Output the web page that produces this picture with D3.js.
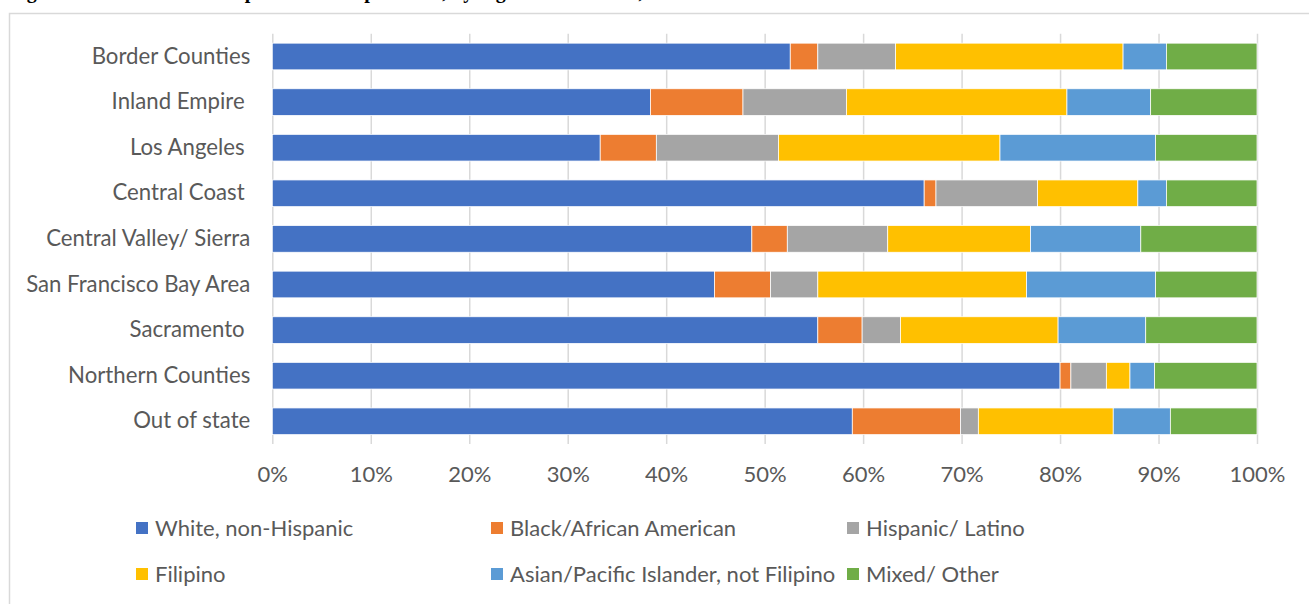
<!DOCTYPE html>
<html>
<head>
<meta charset="utf-8">
<script src="https://cdn.jsdelivr.net/npm/d3@7"></script>
<style>
  html, body { margin: 0; padding: 0; background: #fff; }
  svg { display: block; }
  .lbl { font-family: Lato, "Open Sans", sans-serif; fill: #595959; white-space: pre; }
</style>
</head>
<body>
<svg id="chart" width="1309" height="604"></svg>
<script>
const categories = ["Border Counties", "Inland Empire ", "Los Angeles ", "Central Coast ",
  "Central Valley/ Sierra", "San Francisco Bay Area", "Sacramento ", "Northern Counties", "Out of state"];
const seriesNames = ["White, non-Hispanic", "Black/African American", "Hispanic/ Latino",
  "Filipino", "Asian/Pacific Islander, not Filipino", "Mixed/ Other"];
const white    = [52.6, 38.4, 33.3, 66.2, 48.7, 44.9, 55.4, 80.0, 58.9];
const black    = [2.8, 9.4, 5.7, 1.2, 3.6, 5.7, 4.5, 1.1, 11.0];
const hispanic = [7.9, 10.5, 12.4, 10.3, 10.2, 4.8, 3.9, 3.6, 1.8];
const filipino = [23.1, 22.4, 22.5, 10.2, 14.5, 21.2, 16.0, 2.4, 13.7];
const asian    = [4.4, 8.5, 15.8, 2.9, 11.2, 13.1, 8.9, 2.5, 5.8];
const mixed    = [9.2, 10.8, 10.3, 9.2, 11.8, 10.3, 11.3, 10.4, 8.8];
const tickValues = [0, 0.1, 0.2, 0.3, 0.4, 0.5, 0.6, 0.7, 0.8, 0.9, 1.0];
const colors = ["#4472C4", "#ED7D31", "#A5A5A5", "#FFC000", "#5B9BD5", "#70AD47"];
const titleText = "Figure 4: Racial/ethnic composition of respondents, by region of residence, 2019";

const seriesValues = [white, black, hispanic, filipino, asian, mixed];
const table = categories.map((c, i) => {
  const row = { category: c };
  seriesNames.forEach((s, j) => { row[s] = seriesValues[j][i]; });
  return row;
});

const svg = d3.select("#chart");

// title (cropped at the top edge, as in the source image)
svg.append("text")
  .attr("x", 9).attr("y", -2.5)
  .style("font-family", "'Liberation Serif', 'Times New Roman', serif")
  .style("font-weight", "bold").style("font-size", "20px")
  .attr("fill", "#000")
  .text(titleText);

// chart frame
svg.append("rect")
  .attr("x", 9.5).attr("y", 13.5).attr("width", 1310).attr("height", 620)
  .attr("fill", "none").attr("stroke", "#d9d9d9").attr("stroke-width", 1.5);

const x = d3.scaleLinear().domain([0, 1]).range([272.3, 1257]);
const y = d3.scaleBand().domain(categories).range([33.7, 444.1])
  .paddingInner(0.415).paddingOuter(0.2075);

// gridlines
svg.append("g")
  .attr("transform", `translate(0,${y.range()[1]})`)
  .call(d3.axisBottom(x).tickValues(tickValues).tickSize(-(y.range()[1] - y.range()[0])).tickFormat(""))
  .call(g => g.select(".domain").remove())
  .call(g => g.selectAll("line").attr("stroke", "#d9d9d9").attr("stroke-width", 1.5));

// stacked bars
const stack = d3.stack().keys(seriesNames).offset(d3.stackOffsetExpand);
const stacked = stack(table);
svg.append("g").selectAll("g")
  .data(stacked).join("g")
  .attr("fill", (d, i) => colors[i])
  .selectAll("rect")
  .data(d => d).join("rect")
  .attr("x", d => x(d[0]))
  .attr("width", d => x(d[1]) - x(d[0]))
  .attr("y", d => y(d.data.category))
  .attr("height", y.bandwidth())
  .attr("stroke", "#fff").attr("stroke-width", 0.75);

// x axis labels
svg.append("g")
  .attr("transform", `translate(0,${y.range()[1]})`)
  .call(d3.axisBottom(x).tickValues(tickValues).tickSize(0).tickPadding(22).tickFormat(d3.format(".0%")))
  .call(g => g.select(".domain").remove())
  .call(g => g.selectAll("text").attr("class", "lbl").style("font-size", "22px").attr("fill", "#595959"));

// y axis labels
svg.append("g")
  .attr("transform", `translate(${x(0)},0)`)
  .call(d3.axisLeft(y).tickSize(0).tickPadding(22))
  .call(g => g.select(".domain").remove())
  .call(g => g.selectAll("text").attr("class", "lbl").style("font-size", "22.2px").attr("fill", "#595959"));

// legend
const legendX = [136, 491, 847];
const legendY = [528, 574];
const leg = svg.append("g").selectAll("g")
  .data(seriesNames).join("g")
  .attr("transform", (d, i) => `translate(${legendX[i % 3]},${legendY[Math.floor(i / 3)]})`);
leg.append("rect").attr("x", 0).attr("y", -6).attr("width", 12).attr("height", 12)
  .attr("fill", (d, i) => colors[i]);
leg.append("text").attr("class", "lbl").attr("x", 19).attr("dy", "0.35em")
  .style("font-size", "22px").text(d => d);
</script>
</body>
</html>
